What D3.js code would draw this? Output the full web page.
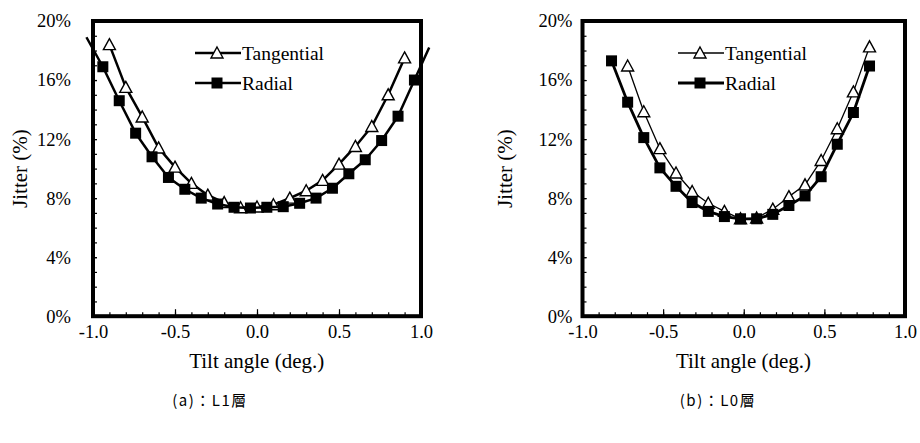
<!DOCTYPE html>
<html><head><meta charset="utf-8">
<script src="https://cdn.jsdelivr.net/npm/d3@7"></script>
<style>
body{margin:0;background:#fff}
</style></head><body>
<svg id="chart" width="920" height="443"></svg>
<script>
// ---- data ----
const xTickValues = [-1.0, -0.5, 0.0, 0.5, 1.0];
const xTickLabels = ["-1.0", "-0.5", "0.0", "0.5", "1.0"];
const yTickValues = [0, 4, 8, 12, 16, 20];
const yTickLabels = ["0%", "4%", "8%", "12%", "16%", "20%"];
const seriesNames = ["Tangential", "Radial"];
const xTitle = "Tilt angle (deg.)";
const yTitle = "Jitter (%)";
const captions = ["(a)\uFF1AL1層", "(b)\uFF1AL0層"];

// (a) L1 layer
const tanL1X = [-0.9,-0.8,-0.7,-0.6,-0.5,-0.4,-0.3,-0.2,-0.1,0.0,0.1,0.2,0.3,0.4,0.5,0.6,0.7,0.8,0.9];
const tanL1Y = [18.4,15.5,13.5,11.4,10.1,9.0,8.2,7.7,7.35,7.4,7.55,8.0,8.5,9.2,10.3,11.5,12.85,15.0,17.5];
const radL1X = [-0.94,-0.84,-0.74,-0.64,-0.54,-0.44,-0.34,-0.24,-0.14,-0.04,0.06,0.16,0.26,0.36,0.46,0.56,0.66,0.76,0.86,0.96];
const radL1Y = [16.9,14.6,12.4,10.8,9.4,8.6,8.0,7.6,7.38,7.33,7.38,7.42,7.65,8.0,8.67,9.65,10.6,11.9,13.55,16.0];
const radL1TailX = [-1.04, 1.05];
const radL1TailY = [18.9, 18.2];

// (b) L0 layer
const tanL0X = [-0.72,-0.62,-0.52,-0.42,-0.32,-0.22,-0.12,-0.02,0.08,0.18,0.28,0.38,0.48,0.58,0.68,0.78];
const tanL0Y = [16.95,13.85,11.35,9.7,8.45,7.65,7.1,6.6,6.65,7.25,8.1,8.9,10.55,12.7,15.2,18.25];
const radL0X = [-0.82,-0.72,-0.62,-0.52,-0.42,-0.32,-0.22,-0.12,-0.02,0.08,0.18,0.28,0.38,0.48,0.58,0.68,0.78];
const radL0Y = [17.3,14.5,12.1,10.05,8.8,7.7,7.1,6.75,6.6,6.6,6.9,7.5,8.15,9.45,11.65,13.8,16.95];

const SERIF = "Liberation Serif";
const CJK = "Noto Sans CJK TC";

const svg = d3.select("#chart");
const zip = (xs, ys) => xs.map((x, i) => ({x: x, y: ys[i]}));

const panels = [
  {x0: 93, x1: 421, y0: 316.2, y1: 21, ylabPad: 22, yTitleX: 20, xc: 256.7,
   tan: zip(tanL1X, tanL1Y), rad: zip(radL1X, radL1Y),
   radLine: [{x: radL1TailX[0], y: radL1TailY[0]}].concat(zip(radL1X, radL1Y), [{x: radL1TailX[1], y: radL1TailY[1]}]),
   tanW: 2.5, radW: 2.5, legX: 195, cap: captions[0], capX: 210},
  {x0: 582.5, x1: 905, y0: 316.2, y1: 21, ylabPad: 10, yTitleX: 505, xc: 743.5,
   tan: zip(tanL0X, tanL0Y), rad: zip(radL0X, radL0Y),
   radLine: zip(radL0X, radL0Y),
   tanW: 1.3, radW: 2.8, legX: 678, cap: captions[1], capX: 718}
];

const triPath = "M0,-6L6,5L-6,5Z";

panels.forEach(p => {
  const x = d3.scaleLinear().domain([-1, 1]).range([p.x0, p.x1]);
  const y = d3.scaleLinear().domain([0, 20]).range([p.y0, p.y1]);
  const g = svg.append("g");

  // minor ticks
  g.append("g").attr("transform", `translate(0,${p.y0})`)
    .call(d3.axisBottom(x).tickValues(d3.range(-10, 11).map(v => v / 10)).tickSize(-4).tickFormat(""))
    .call(s => s.select(".domain").remove());
  g.append("g").attr("transform", `translate(${p.x0},0)`)
    .call(d3.axisLeft(y).tickValues(d3.range(0, 21)).tickSize(-4).tickFormat(""))
    .call(s => s.select(".domain").remove());
  // major ticks with labels
  g.append("g").attr("transform", `translate(0,${p.y0})`)
    .call(d3.axisBottom(x).tickValues(xTickValues).tickSize(-7).tickPadding(9)
      .tickFormat((d, i) => xTickLabels[i]))
    .attr("font-family", SERIF).attr("font-size", 18.5)
    .call(s => s.select(".domain").remove());
  g.append("g").attr("transform", `translate(${p.x0},0)`)
    .call(d3.axisLeft(y).tickValues(yTickValues).tickSize(-4).tickPadding(p.ylabPad)
      .tickFormat((d, i) => yTickLabels[i]))
    .attr("font-family", SERIF).attr("font-size", 18.5)
    .call(s => s.select(".domain").remove());
  g.selectAll(".tick line").attr("stroke", "#000").attr("stroke-width", 1.2);
  g.selectAll(".tick text").attr("fill", "#000");

  // frame
  g.append("rect").attr("x", p.x0).attr("y", p.y1)
    .attr("width", p.x1 - p.x0).attr("height", p.y0 - p.y1)
    .attr("fill", "none").attr("stroke", "#000").attr("stroke-width", 4);

  // titles
  g.append("text").attr("x", p.xc).attr("y", 368).attr("text-anchor", "middle")
    .attr("font-family", SERIF).attr("font-size", 21).text(xTitle);
  g.append("text").attr("transform", `translate(${p.yTitleX},${(p.y0 + p.y1) / 2}) rotate(-90)`)
    .attr("text-anchor", "middle").attr("dy", "0.35em")
    .attr("font-family", SERIF).attr("font-size", 21).text(yTitle);
  svg.append("text").attr("x", p.capX).attr("y", 406)
    .attr("text-anchor", "middle").attr("font-family", CJK).attr("letter-spacing", 1.5)
    .attr("font-size", 15).text(p.cap);

  const line = d3.line().x(d => x(d.x)).y(d => y(d.y));
  // tangential
  g.append("path").datum(p.tan).attr("d", line).attr("fill", "none")
    .attr("stroke", "#000").attr("stroke-width", p.tanW).attr("stroke-linejoin", "round");
  g.selectAll(".tri").data(p.tan).join("path").attr("class", "tri")
    .attr("transform", d => `translate(${x(d.x)},${y(d.y)})`).attr("d", triPath)
    .attr("fill", "#fff").attr("stroke", "#000").attr("stroke-width", 1.4);
  // radial
  g.append("path").datum(p.radLine).attr("d", line).attr("fill", "none")
    .attr("stroke", "#000").attr("stroke-width", p.radW).attr("stroke-linejoin", "round");
  g.selectAll(".sq").data(p.rad).join("rect").attr("class", "sq")
    .attr("x", d => x(d.x) - 5.5).attr("y", d => y(d.y) - 5.5)
    .attr("width", 11).attr("height", 11).attr("fill", "#000");

  // legend
  const lg = g.append("g").attr("transform", `translate(${p.legX},0)`);
  lg.append("line").attr("x1", 0).attr("x2", 46).attr("y1", 53).attr("y2", 53)
    .attr("stroke", "#000").attr("stroke-width", p.tanW);
  lg.append("path").attr("transform", "translate(22,53)").attr("d", triPath)
    .attr("fill", "#fff").attr("stroke", "#000").attr("stroke-width", 1.4);
  lg.append("text").attr("x", 47).attr("y", 59.5).attr("font-family", SERIF)
    .attr("font-size", 19.5).text(seriesNames[0]);
  lg.append("line").attr("x1", 0).attr("x2", 46).attr("y1", 83).attr("y2", 83)
    .attr("stroke", "#000").attr("stroke-width", p.radW);
  lg.append("rect").attr("x", 16.5).attr("y", 77.5).attr("width", 11).attr("height", 11).attr("fill", "#000");
  lg.append("text").attr("x", 47).attr("y", 89.5).attr("font-family", SERIF)
    .attr("font-size", 19.5).text(seriesNames[1]);
});
</script>
</body></html>
